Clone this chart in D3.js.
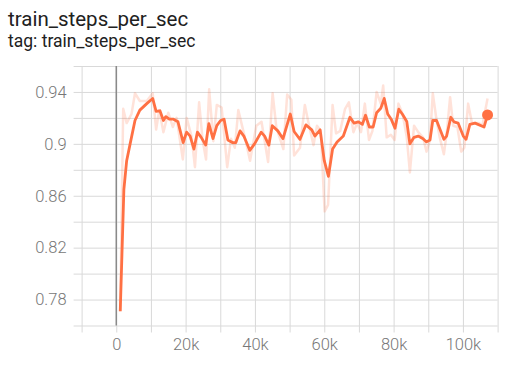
<!DOCTYPE html>
<html>
<head>
<meta charset="utf-8">
<script src="https://cdn.jsdelivr.net/npm/d3@7"></script>
<style>
  body { margin: 0; background: #fff; font-family: Roboto, "Noto Sans", sans-serif; }
  .title { font-size: 20.5px; fill: #212121; }
  .subtitle { font-size: 17.5px; fill: #212121; }
  .axis text { font-size: 16.5px; font-weight: 300; fill: #777; font-family: Roboto, sans-serif; }
  .axis line { stroke: #d9d9d9; }
  .axis path { display: none; }
</style>
</head>
<body>
<svg id="chart" width="512" height="368"></svg>
<script>
// raw points (step, value)
var rawSteps = [1150, 2000, 3000, 4400, 5400, 6800, 8800, 10500, 11500, 12400, 13600, 15000, 16300, 17400,
  19200, 20300, 21700, 22700, 23900, 24900, 25900, 26800, 28000, 29000, 30400, 32000, 33100, 34200, 35200,
  37100, 38600, 40400, 41900, 43800, 45100, 46200, 47100, 48200, 49300, 50500, 51300, 53000, 54400, 55700,
  56900, 57900, 59000, 60100, 61100, 62400, 63400, 64600, 66000, 67100, 68400, 69500, 70600, 71700, 72900,
  73900, 75100, 76300, 77000, 78000, 79200, 80300, 81400, 82600, 83800, 84700, 85900, 87100, 88500, 89500,
  90500, 91300, 92400, 93300, 94500, 95400, 96300, 97200, 98400, 99500, 100400, 101500, 102600, 104700,
  105600, 107100];
var rawValues = [0.771, 0.927, 0.916, 0.923, 0.939, 0.933, 0.933, 0.939, 0.911, 0.926, 0.909, 0.924, 0.913, 0.920,
  0.888, 0.920, 0.906, 0.882, 0.932, 0.903, 0.888, 0.942, 0.902, 0.930, 0.928, 0.882, 0.904, 0.897, 0.926,
  0.905, 0.887, 0.914, 0.917, 0.886, 0.939, 0.912, 0.905, 0.896, 0.938, 0.934, 0.891, 0.897, 0.930, 0.913,
  0.899, 0.914, 0.910, 0.848, 0.853, 0.930, 0.908, 0.910, 0.927, 0.932, 0.909, 0.916, 0.909, 0.931, 0.903,
  0.910, 0.940, 0.931, 0.945, 0.905, 0.907, 0.903, 0.931, 0.923, 0.905, 0.878, 0.914, 0.909, 0.905, 0.894,
  0.903, 0.939, 0.918, 0.905, 0.892, 0.910, 0.936, 0.914, 0.913, 0.894, 0.897, 0.931, 0.916, 0.916,
  0.914, 0.935];

// smoothed line vertices
var smoothSteps = [1150, 2200, 3000, 4000, 5400, 6800, 8800, 10500, 11500, 12600, 13600, 14300, 15300, 16500,
  17800, 19300, 20300, 21300, 22400, 23400, 24500, 25800, 26700, 27900, 29000, 30100, 31100, 32200, 33500,
  34500, 35700, 36800, 38500, 39900, 41800, 42800, 44000, 45000, 46600, 48100, 50200, 51300, 53000, 54700,
  56400, 57300, 58800, 60000, 61200, 62400, 63700, 65500, 67400, 68600, 69800, 71000, 71900, 73000, 74100,
  75100, 76300, 77300, 78300, 79400, 80400, 81500, 82600, 83800, 84700, 85900, 87100, 88500, 89500, 90500,
  91300, 92400, 94500, 95300, 96500, 97400, 98600, 100100, 100900, 102000, 103500, 106100, 107100];
var smoothValues = [0.771, 0.865, 0.887, 0.900, 0.918, 0.926, 0.931, 0.935, 0.925, 0.9255, 0.918, 0.921, 0.919, 0.919,
  0.917, 0.901, 0.909, 0.906, 0.896, 0.909, 0.905, 0.899, 0.9155, 0.904, 0.914, 0.918, 0.919, 0.903, 0.901,
  0.901, 0.910, 0.906, 0.895, 0.900, 0.909, 0.906, 0.899, 0.914, 0.910, 0.904, 0.923, 0.9095, 0.9035, 0.9146,
  0.9108, 0.906, 0.9108, 0.887, 0.875, 0.896, 0.9015, 0.906, 0.9205, 0.916, 0.917, 0.915, 0.922, 0.913, 0.913,
  0.924, 0.9274, 0.935, 0.923, 0.9185, 0.912, 0.9267, 0.9226, 0.9172, 0.900, 0.905, 0.906, 0.904, 0.9015, 0.903,
  0.918, 0.918, 0.9035, 0.906, 0.9205, 0.917, 0.916, 0.906, 0.9035, 0.915, 0.916, 0.913, 0.9223];

var xGrid = [-10000, 0, 10000, 20000, 30000, 40000, 50000, 60000, 70000, 80000, 90000, 100000, 110000];
var xLabels = [0, 20000, 40000, 60000, 80000, 100000];
var yGrid = [0.76, 0.78, 0.8, 0.82, 0.84, 0.86, 0.88, 0.9, 0.92, 0.94, 0.96];
var yLabels = [0.78, 0.82, 0.86, 0.9, 0.94];

var LEFT = 81.6, RIGHT = 497.6, TOP = 66, BOTTOM = 325.5;
var LINE_COLOR = "#ff7043";

var svg = d3.select("#chart");

svg.append("text").attr("class", "title").attr("x", 8).attr("y", 26).text("train_steps_per_sec");
svg.append("text").attr("class", "subtitle").attr("x", 8).attr("y", 46.5).text("tag: train_steps_per_sec");

var x = d3.scaleLinear().domain([-10000, 110000]).range([LEFT, RIGHT]);
var y = d3.scaleLinear().domain([0.76, 0.96]).range([BOTTOM, TOP]);

// grid + ticks via axes
var xAxis = d3.axisBottom(x)
  .tickValues(xGrid)
  .tickSize(BOTTOM - TOP + 7)
  .tickPadding(6)
  .tickFormat(function(d){ return xLabels.indexOf(d) > -1 ? d3.format("~s")(d) : ""; });
svg.append("g").attr("class", "axis")
  .attr("transform", "translate(0," + TOP + ")")
  .call(xAxis);

var yAxis = d3.axisLeft(y)
  .tickValues(yGrid)
  .tickSize(RIGHT - LEFT + 8)
  .tickPadding(7)
  .tickFormat(function(d){
    return yLabels.some(function(v){ return Math.abs(v - d) < 1e-9; }) ? d3.format("~g")(d) : "";
  });
svg.append("g").attr("class", "axis")
  .attr("transform", "translate(" + RIGHT + ",0)")
  .call(yAxis);

// darker line at step 0
svg.append("line")
  .attr("x1", x(0)).attr("x2", x(0))
  .attr("y1", TOP).attr("y2", BOTTOM)
  .attr("stroke", "#8a8a8a").attr("stroke-width", 1.5);

var rawData = rawSteps.map(function(s, i){ return [s, rawValues[i]]; });
var smoothData = smoothSteps.map(function(s, i){ return [s, smoothValues[i]]; });

var line = d3.line()
  .x(function(d){ return x(d[0]); })
  .y(function(d){ return y(d[1]); });

svg.append("path")
  .datum(rawData)
  .attr("d", line)
  .attr("fill", "none")
  .attr("stroke", LINE_COLOR)
  .attr("stroke-opacity", 0.2)
  .attr("stroke-width", 2.5)
  .attr("stroke-linejoin", "round");

svg.append("path")
  .datum(smoothData)
  .attr("d", line)
  .attr("fill", "none")
  .attr("stroke", LINE_COLOR)
  .attr("stroke-width", 2.8)
  .attr("stroke-linejoin", "round");

var last = smoothData[smoothData.length - 1];
svg.append("circle")
  .attr("cx", x(last[0]))
  .attr("cy", y(last[1]))
  .attr("r", 5.5)
  .attr("fill", LINE_COLOR);
</script>
</body>
</html>
